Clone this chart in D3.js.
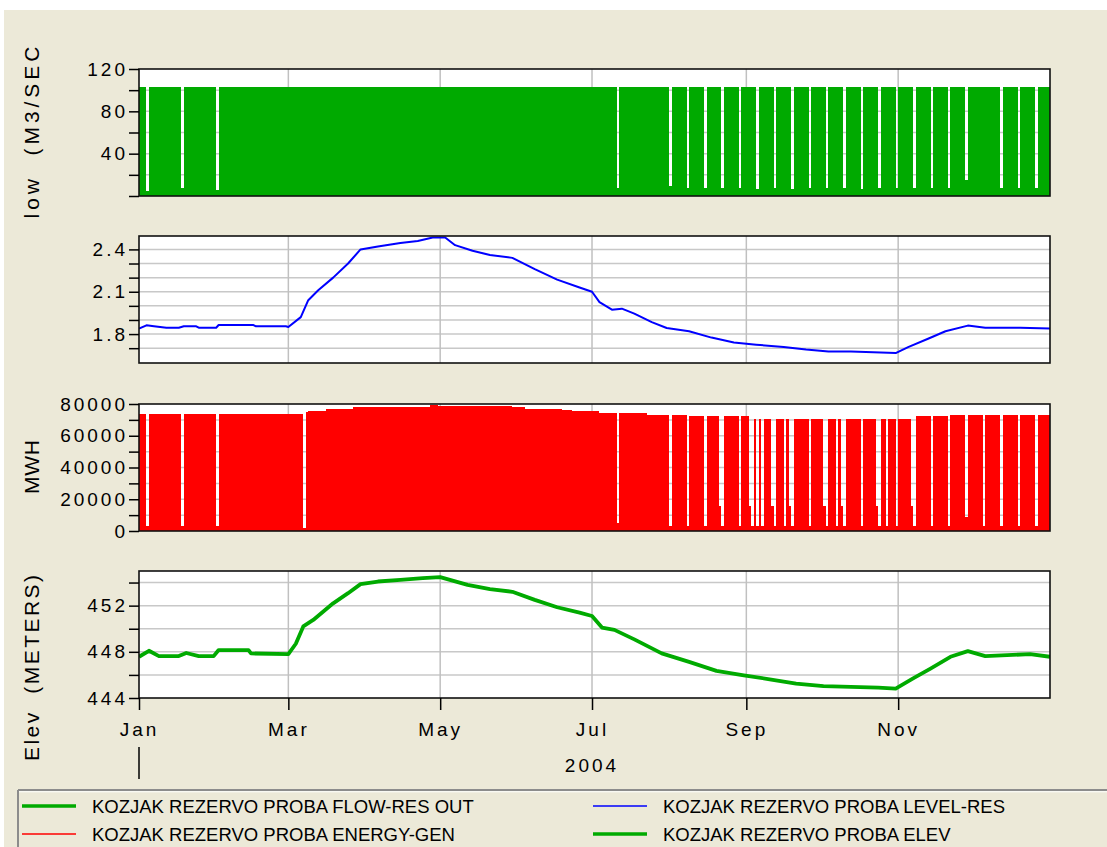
<!DOCTYPE html>
<html><head><meta charset="utf-8">
<script src="https://cdn.jsdelivr.net/npm/d3@7"></script>
<style>
html,body{margin:0;padding:0;background:#fff;}
svg{display:block;}
text{font-family:"Liberation Sans",Arial,sans-serif;fill:#000;}
</style></head><body>
<svg id="chart" width="1107" height="847"></svg>
<script>
const parse = d3.timeParse("%Y-%m-%d");
const fmt = d3.timeFormat("%Y-%m-%d");

// ---------------- data ----------------
const monthTickDates = ["2004-01-01","2004-03-01","2004-05-01","2004-07-01","2004-09-01","2004-11-01"];
const monthTickLabels = ["Jan","Mar","May","Jul","Sep","Nov"];
const gridMonthDates = ["2004-03-01","2004-05-01","2004-07-01","2004-09-01","2004-11-01"];
const yearLabel = "2004";

const flowTicks = [0,20,40,60,80,100,120];
const flowTickLabels = ["","","40","","80","","120"];
const levelTicks = [1.7,1.8,1.9,2.0,2.1,2.2,2.3,2.4];
const levelTickLabels = ["","1.8","","","2.1","","","2.4"];
const energyTicks = [0,10000,20000,30000,40000,50000,60000,70000,80000];
const energyTickLabels = ["0","","20000","","40000","","60000","","80000"];
const elevTicks = [444,446,448,450,452,454];
const elevTickLabels = ["444","","448","","452",""];

const yTitles = ["low  (M3/SEC", "", "MWH", "Elev  (METERS)"];

// outflow (m3/s): daily value is the plateau except listed days
const flowPlateau = 103;
const flowDips = [
 ["2004-01-04",5],["2004-01-18",8],["2004-02-01",6],["2004-07-11",8],
 ["2004-08-01",9],["2004-08-08",8],["2004-08-15",8],["2004-08-22",8],["2004-08-29",8],
 ["2004-09-05",7],["2004-09-12",8],["2004-09-19",7],["2004-09-26",8],["2004-10-03",8],
 ["2004-10-10",8],["2004-10-17",7],["2004-10-24",8],["2004-10-31",8],["2004-11-07",8],
 ["2004-11-14",8],["2004-11-21",8],["2004-11-28",15],["2004-12-12",8],["2004-12-19",8],
 ["2004-12-26",8]
];

// reservoir level
const levelDates = ["2004-01-01","2004-01-04","2004-01-07","2004-01-12","2004-01-17","2004-01-19","2004-01-24","2004-01-25","2004-02-01","2004-02-02","2004-02-16","2004-02-17","2004-02-29","2004-03-01","2004-03-06","2004-03-09","2004-03-13","2004-03-19","2004-03-25","2004-03-30","2004-04-06","2004-04-15","2004-04-22","2004-04-28","2004-05-03","2004-05-07","2004-05-14","2004-05-21","2004-05-30","2004-06-08","2004-06-17","2004-06-26","2004-07-01","2004-07-04","2004-07-09","2004-07-13","2004-07-18","2004-07-25","2004-07-31","2004-08-09","2004-08-18","2004-08-27","2004-09-05","2004-09-16","2004-09-25","2004-10-04","2004-10-13","2004-10-22","2004-10-31","2004-11-05","2004-11-13","2004-11-20","2004-11-29","2004-12-06","2004-12-20","2005-01-01"];
const levelValues = [1.838,1.862,1.855,1.845,1.845,1.855,1.855,1.845,1.845,1.864,1.864,1.855,1.855,1.85,1.92,2.04,2.11,2.20,2.30,2.40,2.42,2.445,2.46,2.484,2.484,2.43,2.39,2.36,2.34,2.26,2.186,2.13,2.10,2.027,1.973,1.98,1.945,1.885,1.843,1.82,1.775,1.74,1.725,1.708,1.69,1.677,1.677,1.672,1.665,1.708,1.767,1.82,1.86,1.845,1.845,1.84];

// energy generation (MWH): step levels + listed low days
const energyStepDates = ["2004-01-01","2004-03-08","2004-03-09","2004-03-16","2004-03-27","2004-04-27","2004-04-30","2004-05-30","2004-06-04","2004-06-19","2004-06-23","2004-07-04","2004-07-23","2004-08-09","2004-09-03","2004-11-08","2004-11-22"];
const energyStepValues = [73500,74900,75600,77100,78100,79600,78500,78000,76800,76400,75600,74600,73300,72200,70800,72200,73300];
const energyDips = [
 ["2004-01-04",3000],["2004-01-18",3000],["2004-02-01",3000],["2004-03-07",2000],["2004-07-11",5000],
 ["2004-08-01",3000],["2004-08-08",3000],["2004-08-15",3000],["2004-08-21",16000],["2004-08-22",3000],
 ["2004-08-29",3000],["2004-09-02",16000],["2004-09-03",3000],["2004-09-05",3000],["2004-09-07",3000],
 ["2004-09-11",16000],["2004-09-12",3000],["2004-09-16",3000],["2004-09-18",16000],["2004-09-19",3000],
 ["2004-09-26",3000],["2004-10-02",16000],["2004-10-03",3000],["2004-10-07",3000],["2004-10-09",16000],
 ["2004-10-10",3000],["2004-10-17",3000],["2004-10-23",16000],["2004-10-24",3000],["2004-10-27",3000],
 ["2004-10-31",3000],["2004-11-06",16000],["2004-11-07",3000],["2004-11-14",3000],["2004-11-21",3000],
 ["2004-11-28",9000],["2004-12-05",3000],["2004-12-12",3000],["2004-12-19",3000],["2004-12-26",3000]
];

// elevation (m)
const elevDates = ["2004-01-01","2004-01-05","2004-01-09","2004-01-17","2004-01-20","2004-01-25","2004-01-31","2004-02-02","2004-02-14","2004-02-15","2004-03-01","2004-03-04","2004-03-07","2004-03-11","2004-03-19","2004-03-25","2004-03-30","2004-04-06","2004-04-15","2004-04-24","2004-05-01","2004-05-12","2004-05-21","2004-05-30","2004-06-08","2004-06-17","2004-06-26","2004-07-01","2004-07-05","2004-07-10","2004-07-18","2004-07-29","2004-08-09","2004-08-20","2004-08-31","2004-09-11","2004-09-21","2004-10-02","2004-10-13","2004-10-24","2004-10-31","2004-11-07","2004-11-14","2004-11-22","2004-11-29","2004-12-06","2004-12-24","2005-01-01"];
const elevValues = [447.57,448.09,447.63,447.63,447.9,447.63,447.63,448.15,448.15,447.86,447.8,448.7,450.2,450.76,452.2,453.08,453.86,454.09,454.23,454.38,454.47,453.8,453.43,453.2,452.5,451.86,451.4,451.1,450.1,449.9,449.08,447.86,447.13,446.35,445.97,445.6,445.25,445.02,444.96,444.9,444.82,445.7,446.55,447.57,448.06,447.63,447.8,447.57];

const legendLabels = ["KOZJAK REZERVO PROBA FLOW-RES OUT","KOZJAK REZERVO PROBA LEVEL-RES","KOZJAK REZERVO PROBA ENERGY-GEN","KOZJAK REZERVO PROBA ELEV"];
const legendColors = ["#00aa00","#0000ff","#ff0000","#00aa00"];
const legendWidths = [3.5,1.6,1.6,3.5];

// ---------------- build series ----------------
const start = parse("2004-01-01"), end = parse("2005-01-01");
const days = d3.timeDay.range(start, end);

const flowMap = new Map(flowDips);
const flowDaily = days.map(d => ({date:d, v: flowMap.has(fmt(d)) ? flowMap.get(fmt(d)) : flowPlateau}));
flowDaily.push({date:end, v:flowDaily[flowDaily.length-1].v});

const eStepDates = energyStepDates.map(parse);
const eBis = d3.bisector(d => d).right;
const energyMap = new Map(energyDips);
const energyDaily = days.map(d => {
  const s = fmt(d);
  if (energyMap.has(s)) return {date:d, v:energyMap.get(s)};
  return {date:d, v:energyStepValues[eBis(eStepDates, d) - 1]};
});
energyDaily.push({date:end, v:energyDaily[energyDaily.length-1].v});

const levelSeries = levelDates.map((d,i) => ({date:parse(d), v:levelValues[i]}));
const elevSeries = elevDates.map((d,i) => ({date:parse(d), v:elevValues[i]}));

// ---------------- layout ----------------
const svg = d3.select("#chart");
const L = 139, R = 1050, PH = 127;
const tops = [69, 236, 404, 571];

svg.append("rect").attr("x",4).attr("y",10).attr("width",1103).attr("height",837).attr("fill","#ece9d8");

const x = d3.scaleTime().domain([start,end]).range([L,R]);

const panels = [
  {domain:[0,120], ticks:flowTicks, labels:flowTickLabels, kind:"area", data:flowDaily, color:"#00aa00"},
  {domain:[1.595,2.495], ticks:levelTicks, labels:levelTickLabels, kind:"line", data:levelSeries, color:"#0000ff", w:2},
  {domain:[0,80000], ticks:energyTicks, labels:energyTickLabels, kind:"area", data:energyDaily, color:"#ff0000"},
  {domain:[444,455], ticks:elevTicks, labels:elevTickLabels, kind:"line", data:elevSeries, color:"#00aa00", w:3.8}
];

const defs = svg.append("defs");

panels.forEach((p, i) => {
  const top = tops[i];
  const y = d3.scaleLinear().domain(p.domain).range([top+PH, top]);
  const g = svg.append("g");
  g.append("rect").attr("x",L).attr("y",top).attr("width",R-L).attr("height",PH).attr("fill","#fff");
  g.selectAll(".hg").data(p.ticks.filter(t => y(t) > top+1 && y(t) < top+PH-1)).enter().append("line")
    .attr("x1",L).attr("x2",R).attr("y1",d=>y(d)).attr("y2",d=>y(d))
    .attr("stroke","#c8c8c8").attr("stroke-width",1.5);
  g.selectAll(".vg").data(gridMonthDates.map(parse)).enter().append("line")
    .attr("x1",d=>x(d)).attr("x2",d=>x(d)).attr("y1",top).attr("y2",top+PH)
    .attr("stroke","#c0c0c0").attr("stroke-width",1.5);
  defs.append("clipPath").attr("id","clip"+i).append("rect")
    .attr("x",L).attr("y",top).attr("width",R-L).attr("height",PH);
  const dg = g.append("g").attr("clip-path",`url(#clip${i})`);
  if (p.kind === "area") {
    const area = d3.area().x(d=>x(d.date)).y0(y(p.domain[0])).y1(d=>y(d.v)).curve(d3.curveStepAfter);
    dg.append("path").datum(p.data).attr("d",area).attr("fill",p.color).attr("shape-rendering","crispEdges");
  } else {
    const line = d3.line().x(d=>x(d.date)).y(d=>y(d.v));
    dg.append("path").datum(p.data).attr("d",line).attr("fill","none").attr("stroke",p.color)
      .attr("stroke-width",p.w).attr("stroke-linejoin","round");
  }
  g.append("rect").attr("x",L).attr("y",top).attr("width",R-L).attr("height",PH)
    .attr("fill","none").attr("stroke","#111").attr("stroke-width",1.6);
  const ax = d3.axisLeft(y).tickValues(p.ticks).tickSize(10).tickSizeOuter(0).tickPadding(1)
    .tickFormat((d,k) => p.labels[k]);
  const ag = svg.append("g").attr("transform",`translate(${L},0)`).call(ax);
  ag.select(".domain").remove();
  ag.selectAll("line").attr("stroke","#000").attr("stroke-width",1.5);
  ag.selectAll("text").attr("font-size",19).attr("letter-spacing","3px")
    .attr("font-family","'Liberation Sans',Arial,sans-serif").attr("fill","#111");
});

// y titles
const titleY = [132.5, 299, 467, 668];
const titleLen = [172, 0, 54, 186];
yTitles.forEach((t,i) => {
  if (!t) return;
  svg.append("text").attr("transform",`translate(31,${titleY[i]}) rotate(-90)`)
    .attr("text-anchor","middle").attr("dy","0.36em").attr("font-size",21)
    .attr("textLength",titleLen[i]).attr("lengthAdjust","spacing")
    .style("white-space","pre").attr("fill","#111").text(t);
});

// x axis on bottom panel
const xb = tops[3] + PH;
const xa = d3.axisBottom(x).tickValues(monthTickDates.map(parse)).tickSize(12).tickSizeOuter(0).tickPadding(13)
  .tickFormat((d,k) => monthTickLabels[k]);
const xg = svg.append("g").attr("transform",`translate(0,${xb})`).call(xa);
xg.select(".domain").remove();
xg.selectAll("line").attr("stroke","#000").attr("stroke-width",1.5);
xg.selectAll("text").attr("font-size",19).attr("letter-spacing","3px")
  .attr("font-family","'Liberation Sans',Arial,sans-serif").attr("fill","#111");

// year marker
svg.append("line").attr("x1",x(start)).attr("x2",x(start)).attr("y1",747).attr("y2",779)
  .attr("stroke","#000").attr("stroke-width",1.5);
svg.append("text").attr("x",x(parse("2004-07-01"))).attr("y",772).attr("text-anchor","middle")
  .attr("font-size",19).attr("letter-spacing","3px").attr("fill","#111").text(yearLabel);

// legend
svg.append("line").attr("x1",18).attr("x2",1107).attr("y1",790).attr("y2",790).attr("stroke","#8c8c8c").attr("stroke-width",2);
svg.append("line").attr("x1",18).attr("x2",18).attr("y1",790).attr("y2",847).attr("stroke","#8c8c8c").attr("stroke-width",2);
svg.append("line").attr("x1",19).attr("x2",1107).attr("y1",791.8).attr("y2",791.8).attr("stroke","#ffffff").attr("stroke-width",1);
const legX = [22, 593], legTextX = [92, 663], legY = [806, 834];
legendLabels.forEach((t,i) => {
  const col = i % 2, row = Math.floor(i/2);
  svg.append("line").attr("x1",legX[col]).attr("x2",legX[col]+54).attr("y1",legY[row]).attr("y2",legY[row])
    .attr("stroke",legendColors[i]).attr("stroke-width",legendWidths[i]);
  svg.append("text").attr("x",legTextX[col]).attr("y",legY[row]+6.5).attr("font-size",18.5)
    .attr("fill","#111").text(t);
});
</script>
</body></html>
